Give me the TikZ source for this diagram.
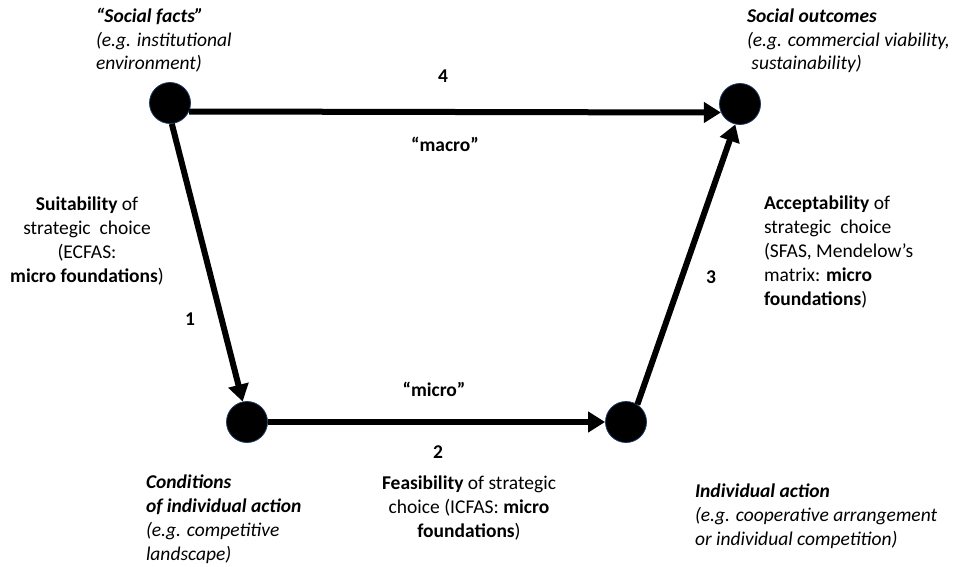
\documentclass[tikz,border=0pt]{standalone}
\usepackage{fontspec}
\setmainfont{Carlito}
\usetikzlibrary{arrows.meta}
\definecolor{dotblue}{RGB}{31,56,100}
\begin{document}
\begin{tikzpicture}[x=1pt,y=-1pt,
  dot/.style={circle, fill=black, draw=dotblue, line width=0.8pt, minimum size=41pt, inner sep=0pt},
  conn/.style={line width=6pt, -{Triangle[length=17pt,width=20pt]}},
  lbl/.style={font=\fontsize{19.5}{23.8}\selectfont, inner sep=0pt, outer sep=0pt},
]
\useasboundingbox (0,0) rectangle (961,567);
\node[dot] (sf) at (170,103) {};
\node[dot] (so) at (740,104) {};
\node[dot] (ci) at (247,422) {};
\node[dot] (ia) at (626,422) {};

\draw[conn] (sf.-24) -- (so.204);
\draw[conn] (sf.-85) -- (ci.102);
\draw[conn] (ci.east) -- (ia.west);
\draw[conn] (ia.57) -- (so.257);

\node[lbl, anchor=base west, align=left] (tsf) at (96,70)
  {\textbf{\textit{“Social facts”}}\\\textit{(e.g. institutional}\\\textit{environment)}};
\node[lbl, anchor=base west, align=left] (tso) at (747,70)
  {\textbf{\textit{Social outcomes}}\\\textit{(e.g. commercial viability,}\\\textit{\ sustainability)}};
\node[lbl, anchor=base] (n4) at (443,83) {\textbf{4}};
\node[lbl, anchor=base] (macro) at (445,152) {\textbf{“macro”}};
\node[lbl, anchor=base, align=center] (tsu) at (87,282)
  {\textbf{Suitability} of\\strategic\ \ choice\\(ECFAS:\\\textbf{micro foundations})};
\node[lbl, anchor=base] (n1) at (190,325) {\textbf{1}};
\node[lbl, anchor=base west, align=left] (tac) at (764,305)
  {\textbf{Acceptability} of\\strategic\ \ choice\\(SFAS, Mendelow’s\\matrix: \textbf{micro}\\\textbf{foundations})};
\node[lbl, anchor=base] (n3) at (711,283) {\textbf{3}};
\node[lbl, anchor=base] (micro) at (434,396) {\textbf{“micro”}};
\node[lbl, anchor=base] (n2) at (438,458) {\textbf{2}};
\node[lbl, anchor=base west, align=left] (tci) at (146,560)
  {\textbf{\textit{Conditions}}\\\textbf{\textit{of individual action}}\\\textit{(e.g. competitive}\\\textit{landscape)}};
\node[lbl, anchor=base, align=center] (tfe) at (469,537)
  {\textbf{Feasibility} of strategic\\choice (ICFAS: \textbf{micro}\\\textbf{foundations})};
\node[lbl, anchor=base west, align=left] (tia) at (695,545)
  {\textbf{\textit{Individual action}}\\\textit{(e.g. cooperative arrangement}\\\textit{or individual competition)}};
\end{tikzpicture}
\end{document}
